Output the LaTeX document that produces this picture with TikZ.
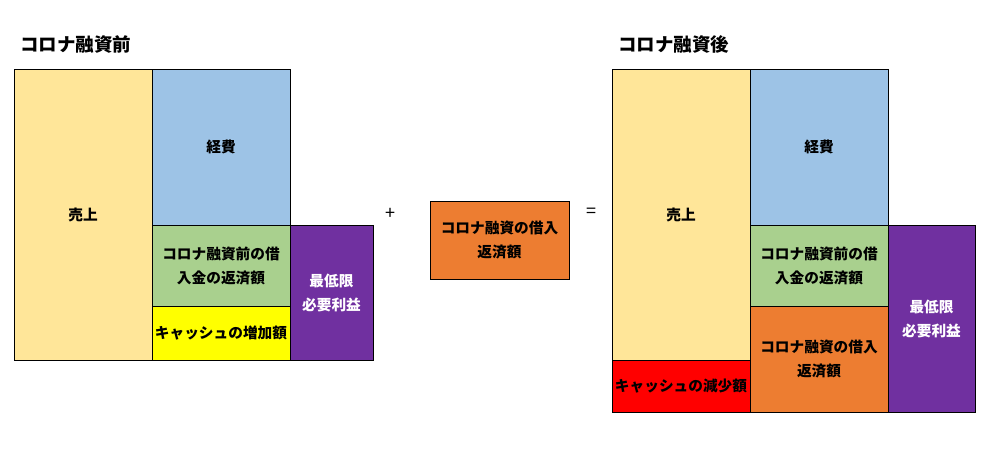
\documentclass[tikz,border=0pt]{standalone}
\usepackage{fontspec}
\setmainfont{Noto Sans CJK JP}
\definecolor{cSales}{HTML}{FFE699}
\definecolor{cCost}{HTML}{9DC3E6}
\definecolor{cGreen}{HTML}{A9D08E}
\definecolor{cYel}{HTML}{FFFF00}
\definecolor{cPur}{HTML}{7030A0}
\definecolor{cOra}{HTML}{ED7D31}
\definecolor{cRed}{HTML}{FF0000}
\tikzset{
  blk/.style={draw=black, line width=0.8pt, inner sep=0pt, outer sep=0pt, anchor=north west,
    align=center, font=\fontsize{14.67}{24}\selectfont\bfseries},
  ttl/.style={anchor=west, inner sep=0pt, font=\fontsize{18.5}{22}\selectfont\bfseries},
  opr/.style={inner sep=0pt, font=\fontsize{18}{20}\selectfont}
}
\begin{document}
\begin{tikzpicture}[x=1pt,y=-1pt]
\useasboundingbox (0,0) rectangle (1002,463);
% before
\node[ttl] (t1) at (20,44) {コロナ融資前};
\node[blk, fill=cSales, minimum width=138pt, minimum height=291pt] (s1) at (14,69) {売上};
\node[blk, fill=cCost, minimum width=138pt, minimum height=156pt] (c1) at (152,69) {経費};
\node[blk, fill=cGreen, minimum width=138pt, minimum height=81pt] (g1) at (152,225) {コロナ融資前の借\\入金の返済額};
\node[blk, fill=cYel, minimum width=138pt, minimum height=54pt] (y1) at (152,306) {キャッシュの増加額};
\node[blk, fill=cPur, text=white, minimum width=83pt, minimum height=135pt] (p1) at (290,225) {最低限\\必要利益};
% operators and loan
\node[opr] (plus) at (390,214) {+};
\node[blk, fill=cOra, minimum width=139pt, minimum height=78pt] (loan) at (430,201) {コロナ融資の借入\\返済額};
\node[opr] (eq) at (591,213) {=};
% after
\node[ttl] (t2) at (618,44) {コロナ融資後};
\node[blk, fill=cSales, minimum width=138pt, minimum height=291pt] (s2) at (612,69) {売上};
\node[blk, fill=cRed, minimum width=138pt, minimum height=52pt] (r2) at (612,360) {キャッシュの減少額};
\node[blk, fill=cCost, minimum width=138pt, minimum height=156pt] (c2) at (750,69) {経費};
\node[blk, fill=cGreen, minimum width=138pt, minimum height=81pt] (g2) at (750,225) {コロナ融資前の借\\入金の返済額};
\node[blk, fill=cOra, minimum width=138pt, minimum height=106pt] (o2) at (750,306) {コロナ融資の借入\\返済額};
\node[blk, fill=cPur, text=white, minimum width=87pt, minimum height=187pt] (p2) at (888,225) {最低限\\必要利益};
\end{tikzpicture}
\end{document}
